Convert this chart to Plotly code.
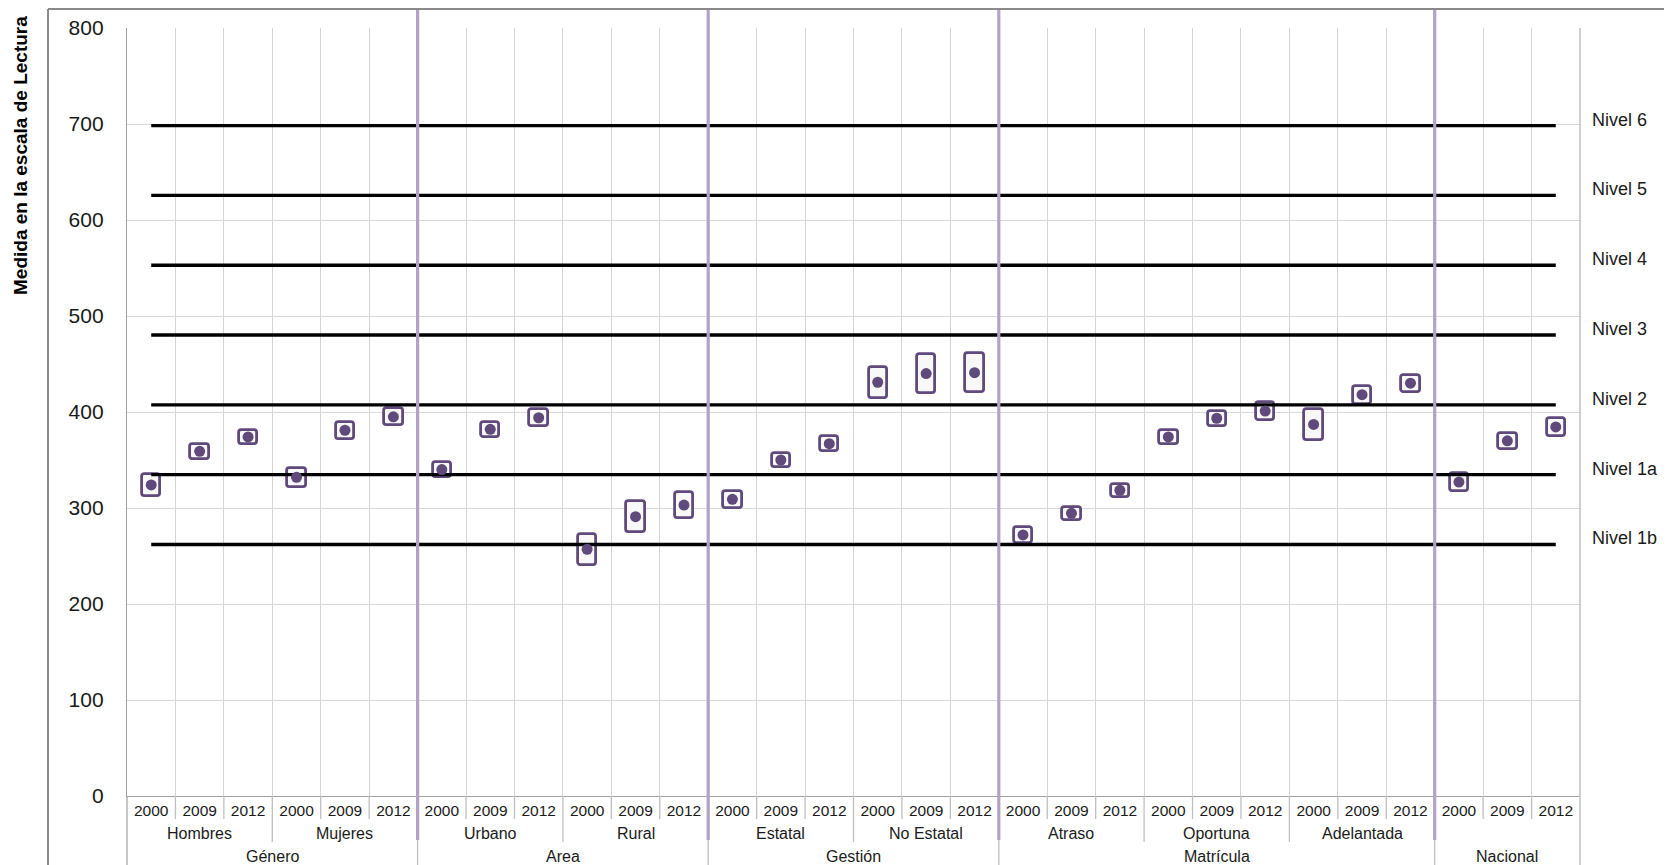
import plotly.graph_objects as go

# datos
grupos = ["Género", "Area", "Gestión", "Matrícula", "Nacional"]
subgrupos = ["Hombres", "Mujeres", "Urbano", "Rural", "Estatal", "No Estatal",
             "Atraso", "Oportuna", "Adelantada", ""]
grupo_de_subgrupo = [0, 0, 1, 1, 2, 2, 3, 3, 3, 4]
anios = ["2000", "2009", "2012"]

media = [324, 359, 374, 332, 381, 395,
         340, 382, 394, 257, 291, 303,
         309, 350, 367, 431, 440, 441,
         272, 294.5, 318.5, 374, 393.5, 401, 387, 418, 430,
         327, 370, 384.5]
error = [11.5, 8, 7.5, 10, 9, 9,
         8, 8, 9, 16, 16, 13.5,
         9, 7, 8, 16, 20.5, 20.5,
         8, 6.5, 7, 7, 8, 9.5, 16, 9.5, 9,
         9, 8.5, 9]

niveles = ["Nivel 6", "Nivel 5", "Nivel 4", "Nivel 3", "Nivel 2", "Nivel 1a", "Nivel 1b"]
nivel_valor = [698.32, 625.61, 552.89, 480.18, 407.47, 334.75, 262.04]

PURPLE = "#5f4a7b"
SEP = "#b3a2c7"
FONT = "Liberation Sans, Arial, sans-serif"

years = [a for s in subgrupos for a in anios]
xs = list(range(len(years)))
n = len(xs)
low = [m - e for m, e in zip(media, error)]
alto = [2 * e for e in error]

fig = go.Figure()

# lineas de niveles
for nom, v in zip(niveles, nivel_valor):
    fig.add_trace(go.Scatter(x=[xs[0], xs[-1]], y=[v, v], mode="lines",
                             line=dict(color="black", width=3.4),
                             hoverinfo="skip", showlegend=False))
    fig.add_annotation(x=1, xref="paper", y=v, yref="y", text=nom,
                       showarrow=False, xanchor="left", yanchor="middle",
                       xshift=10, yshift=6, font=dict(size=18, color="#1a1a1a"))

# intervalos
fig.add_trace(go.Bar(x=xs, y=alto, base=low, width=0.38,
                     marker=dict(color="#f8f8f8", line=dict(color=PURPLE, width=2.8),
                                 cornerradius=3),
                     hoverinfo="skip", showlegend=False))
fig.add_trace(go.Scatter(x=xs, y=media, mode="markers",
                         marker=dict(color=PURPLE, size=11),
                         showlegend=False))

# separadores de la zona de etiquetas
px_y = 768.0
shapes = []
bounds_sub = []
bounds_grp = [-0.5]
prev_g = grupo_de_subgrupo[0]
for k, s in enumerate(subgrupos):
    start = k * 3
    if k > 0:
        if grupo_de_subgrupo[k] != prev_g:
            bounds_grp.append(start - 0.5)
        else:
            bounds_sub.append(start - 0.5)
    prev_g = grupo_de_subgrupo[k]
    if s:
        fig.add_annotation(x=start + 1, xref="x", y=0, yref="paper", text=s, showarrow=False,
                           yanchor="middle", yshift=-37, font=dict(size=16, color="#1a1a1a"))
bounds_grp.append(n - 0.5)

for g_i, g in enumerate(grupos):
    cols = [j for j in xs if grupo_de_subgrupo[j // 3] == g_i]
    fig.add_annotation(x=(cols[0] + cols[-1]) / 2, xref="x", y=0, yref="paper", text=g,
                       showarrow=False, yanchor="middle", yshift=-60,
                       font=dict(size=16, color="#1a1a1a"))

for b in [j + 0.5 for j in range(0, n - 1)]:
    if b in bounds_grp:
        y1 = -69 / px_y
    elif b in bounds_sub:
        y1 = -46 / px_y
    else:
        y1 = -23 / px_y
    shapes.append(dict(type="line", xref="x", yref="paper", x0=b, x1=b, y0=0, y1=y1,
                       line=dict(color="#bfbfbf", width=1.3)))

# bordes del area
shapes.append(dict(type="line", xref="paper", yref="paper", x0=0, x1=0, y0=0, y1=-69 / px_y,
                   line=dict(color="#a6a6a6", width=1.3)))
shapes.append(dict(type="line", xref="paper", yref="paper", x0=1, x1=1, y0=1, y1=-69 / px_y,
                   line=dict(color="#bfbfbf", width=1.5)))

# lineas moradas entre grupos
for b in bounds_grp[1:-1]:
    shapes.append(dict(type="line", xref="x", yref="paper", x0=b, x1=b,
                       y0=-44 / px_y, y1=1 + 19 / px_y, line=dict(color=SEP, width=3.2)))

# marco exterior
fx = -79 / 1453.0
fy = 1 + 19 / px_y
shapes.append(dict(type="line", xref="paper", yref="paper", x0=fx, x1=fx, y0=-69 / px_y, y1=fy,
                   line=dict(color="#8a8a8a", width=2)))
shapes.append(dict(type="line", xref="paper", yref="paper", x0=fx, x1=1545 / 1453.0, y0=fy, y1=fy,
                   line=dict(color="#8a8a8a", width=2)))

fig.add_annotation(x=-106 / 1453.0, xref="paper", y=(796 - 156) / px_y, yref="paper",
                   text="<b>Medida en la escala de Lectura</b>", textangle=-90,
                   showarrow=False, xanchor="center", yanchor="middle",
                   font=dict(size=19, color="#000000"))

# la pagina deja 8px de margen: se compensa en el tamaño
fig.update_layout(
    width=1664, height=857,
    margin=dict(l=119, r=92, t=20, b=69),
    paper_bgcolor="white", plot_bgcolor="white",
    font=dict(family=FONT, color="#1a1a1a"),
    shapes=shapes,
    bargap=0,
    xaxis=dict(range=[-0.5, n - 0.5], tickmode="array", tickvals=xs, ticktext=years,
               automargin=False,
               showgrid=False, zeroline=False, showline=True, linecolor="#a0a0a0",
               linewidth=1.3, ticks="", tickfont=dict(size=15.5), ticklabelstandoff=0,
               minor=dict(tickvals=[j + 0.5 for j in range(n - 1)], showgrid=True,
                          gridcolor="#d4d4d4", gridwidth=1.3, ticks="")),
    yaxis=dict(range=[0, 800], dtick=100, showgrid=True, gridcolor="#d9d9d9", gridwidth=1.3,
               automargin=False,
               zeroline=False, showline=True, linecolor="#a0a0a0", linewidth=1.3,
               ticks="", tickfont=dict(size=21), ticklabelstandoff=18),
)

fig.write_html("out.html")
